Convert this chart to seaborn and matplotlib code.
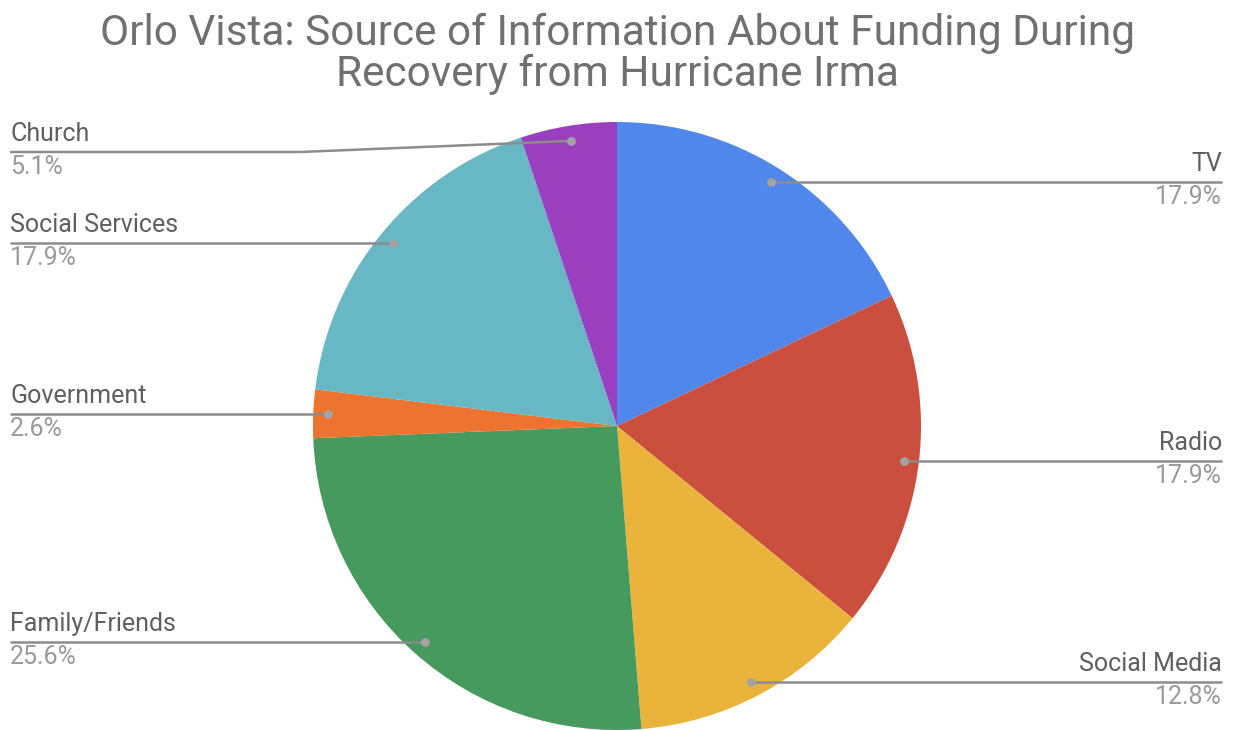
import numpy as np
import matplotlib
matplotlib.use("Agg")
import matplotlib.pyplot as plt
import seaborn as sns

# Data
sources = ["TV", "Radio", "Social Media", "Family/Friends",
           "Government", "Social Services", "Church"]
counts = [7, 7, 5, 10, 1, 7, 2]
pct_labels = ["17.9%", "17.9%", "12.8%", "25.6%", "2.6%", "17.9%", "5.1%"]
colors = ["#5187EA", "#CB4F3F", "#EAB43C", "#469A5E",
          "#EC7330", "#67B7C4", "#9A40BE"]

title = "Orlo Vista: Source of Information About Funding During\nRecovery from Hurricane Irma"

sns.set_theme(style="white")
plt.rcParams["font.family"] = ["Roboto", "DejaVu Sans"]

W, H = 1236, 730
fig = plt.figure(figsize=(W / 100, H / 100), dpi=100)
ax = fig.add_axes([0, 0, 1, 1])

# pie in pixel-like coordinates (y up)
cx, cy, r = 617, H - 426, 304
wedges, _ = ax.pie(counts, colors=colors, startangle=90, counterclock=False,
                   center=(cx, cy), radius=r,
                   wedgeprops=dict(linewidth=0))
ax.set_xlim(0, W)
ax.set_ylim(0, H)
ax.set_aspect("equal")
ax.axis("off")

# -----------------------------
# Leader lines and labels
# -----------------------------
line_col = "#8c8c8c"
for w, name, pct in zip(wedges, sources, pct_labels):
    mid = np.deg2rad((w.theta1 + w.theta2) / 2)
    dx = cx + 0.95 * r * np.cos(mid)
    dy = cy + 0.95 * r * np.sin(mid)
    ly = min(dy, H - 152)
    left = dx < cx
    if left:
        xe, xk, ha = 10, 300, "left"
    else:
        xe, xk, ha = 1222, 935, "right"
    ax.plot([xe, xk, dx], [ly, ly, dy], color=line_col, lw=1.8,
            solid_capstyle="butt", zorder=3)
    ax.scatter([dx], [dy], s=40, color="#a3a3a3", zorder=4, linewidths=0)
    ax.text(xe, ly + 6, name, ha=ha, va="bottom", fontsize=18,
            color="#5f5f5f")
    ax.text(xe, ly - 3, pct, ha=ha, va="top", fontsize=18,
            color="#9a9a9a")

fig.text(cx / W, 1 - 54 / H, title, ha="center", va="center",
         fontsize=30.5, color="#707070", linespacing=1.0)

fig.savefig("out.png", dpi=100, facecolor="white")
